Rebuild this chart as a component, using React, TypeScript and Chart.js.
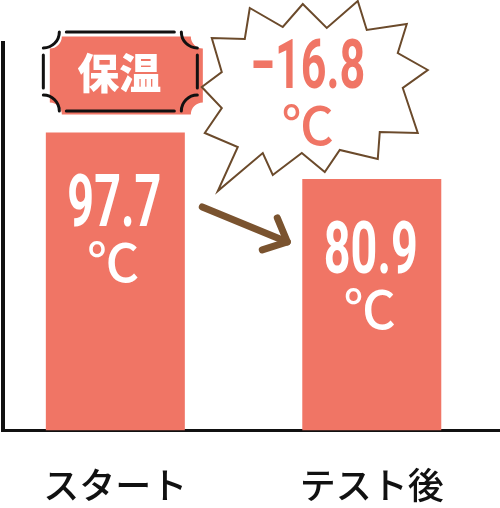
import React, { useEffect, useRef } from "react";
import { Chart, registerables } from "chart.js";

Chart.register(...registerables);

// ---- data ----
const categories = ["スタート", "テスト後"];
const positions = [0, 1];
const temperatures = [97.7, 80.9];
const unitLabel = "℃";
const badgeText = "保温";
const diffLabel = (temperatures[1] - temperatures[0]).toFixed(1).replace("-", "−");

// ---- styles ----
const SALMON = "#f07565";
const BROWN = "#7a532f";
const OUTLINE_BROWN = "#6b4a2b";
const INK = "#111111";
const NUM_FONT = "Roboto, 'DejaVu Sans', sans-serif";
const JP_FONT = "'Noto Sans CJK JP', 'Noto Sans', sans-serif";

// starburst outline, offsets from (second bar centre, chart top)
const BURST: [number, number][] = [
  [-170, 44], [-150, 29], [-160, -5], [-127, -4], [-122, -35], [-89, -16],
  [-69, -39], [-45, -15], [-14, -42], [-5, -13], [35, -19], [26, 10],
  [56, 27], [31, 45], [46, 90], [8, 89], [6, 116], [-32, 107],
  [-47, 129], [-70, 110], [-99, 132], [-109, 110], [-154, 148], [-134, 104],
  [-167, 90], [-150, 65],
];

function drawCondensed(
  ctx: CanvasRenderingContext2D,
  text: string,
  cx: number,
  baseline: number,
  font: string,
  scaleX: number,
  color: string
) {
  ctx.save();
  ctx.font = font;
  ctx.fillStyle = color;
  ctx.textAlign = "center";
  ctx.textBaseline = "alphabetic";
  ctx.translate(cx, baseline);
  ctx.scale(scaleX, 1);
  ctx.fillText(text, 0, 0);
  ctx.restore();
}

function ticketPath(ctx: CanvasRenderingContext2D, x: number, y: number, w: number, h: number, r: number) {
  ctx.beginPath();
  ctx.moveTo(x + r, y);
  ctx.lineTo(x + w - r, y);
  ctx.arc(x + w, y, r, Math.PI, Math.PI / 2, true);
  ctx.lineTo(x + w, y + h - r);
  ctx.arc(x + w, y + h, r, (3 * Math.PI) / 2, Math.PI, true);
  ctx.lineTo(x + r, y + h);
  ctx.arc(x, y + h, r, 0, (3 * Math.PI) / 2, true);
  ctx.lineTo(x, y + r);
  ctx.arc(x, y, r, Math.PI / 2, 0, true);
  ctx.closePath();
}

function ticketOutline(ctx: CanvasRenderingContext2D, x: number, y: number, w: number, h: number, r: number, g: number) {
  const seg = (a: [number, number], b: [number, number]) => {
    ctx.beginPath();
    ctx.moveTo(a[0], a[1]);
    ctx.lineTo(b[0], b[1]);
    ctx.stroke();
  };
  seg([x + r + g, y], [x + w - r - g, y]);
  seg([x + r + g, y + h], [x + w - r - g, y + h]);
  seg([x, y + r + g], [x, y + h - r - g]);
  seg([x + w, y + r + g], [x + w, y + h - r - g]);
  const arcs: [number, number, number, number][] = [
    [x, y, Math.PI / 2, 0],
    [x + w, y, Math.PI, Math.PI / 2],
    [x + w, y + h, (3 * Math.PI) / 2, Math.PI],
    [x, y + h, 2 * Math.PI, (3 * Math.PI) / 2],
  ];
  for (const [cx, cy, a0, a1] of arcs) {
    ctx.beginPath();
    ctx.arc(cx, cy, r, a0, a1, true);
    ctx.stroke();
  }
}

const annotations = {
  id: "annotations",
  afterDraw(chart: any) {
    const ctx: CanvasRenderingContext2D = chart.ctx;
    const top = chart.chartArea.top;
    const meta = chart.getDatasetMeta(0);
    const bars = meta.data.map((el: any) => el.getProps(["x", "y", "width", "base"], true));

    // value labels inside bars
    bars.forEach((b: any, i: number) => {
      drawCondensed(ctx, temperatures[i].toFixed(1), b.x - 1, b.y + 94, `bold 73px ${NUM_FONT}`, 0.64, "#ffffff");
      ctx.save();
      ctx.font = `500 52px ${JP_FONT}`;
      ctx.fillStyle = "#ffffff";
      ctx.textAlign = "center";
      ctx.textBaseline = "alphabetic";
      ctx.fillText(unitLabel, b.x - 2, b.y + 150);
      ctx.restore();
    });

    // badge above first bar
    const b1 = bars[0];
    const ox = b1.x + 5 - 77;
    const oy = top + 28.5 - 39.5;
    ctx.save();
    ctx.fillStyle = SALMON;
    ticketPath(ctx, ox + 6.5, oy + 4.5, 153, 78, 12);
    ctx.fill();
    ctx.strokeStyle = INK;
    ctx.lineWidth = 3;
    ctx.lineCap = "round";
    ticketOutline(ctx, ox, oy, 154, 79, 16, 7);
    ctx.font = `900 42px ${JP_FONT}`;
    ctx.fillStyle = "#ffffff";
    ctx.textAlign = "center";
    ctx.textBaseline = "middle";
    ctx.fillText(badgeText, b1.x + 4, top + 30);
    ctx.restore();

    // starburst with the difference
    const b2 = bars[1];
    ctx.save();
    ctx.beginPath();
    BURST.forEach(([dx, dy], i) => {
      const px = b2.x + dx;
      const py = top + dy;
      if (i === 0) ctx.moveTo(px, py);
      else ctx.lineTo(px, py);
    });
    ctx.closePath();
    ctx.fillStyle = "#ffffff";
    ctx.fill();
    ctx.strokeStyle = OUTLINE_BROWN;
    ctx.lineWidth = 2;
    ctx.lineJoin = "miter";
    ctx.stroke();
    ctx.restore();
    drawCondensed(ctx, diffLabel, b2.x - 64, top + 45, `bold 68px ${NUM_FONT}`, 0.66, SALMON);
    ctx.save();
    ctx.font = `500 52px ${JP_FONT}`;
    ctx.fillStyle = SALMON;
    ctx.textAlign = "center";
    ctx.textBaseline = "alphabetic";
    ctx.fillText(unitLabel, b2.x - 64, top + 102);
    ctx.restore();

    // arrow between bars
    const ax = b2.x - b2.width / 2;
    const ay = b2.y;
    ctx.save();
    ctx.strokeStyle = BROWN;
    ctx.lineWidth = 7;
    ctx.lineCap = "round";
    ctx.lineJoin = "round";
    ctx.beginPath();
    ctx.moveTo(ax - 100, ay + 28);
    ctx.lineTo(ax - 15, ay + 63);
    ctx.stroke();
    ctx.beginPath();
    ctx.moveTo(ax - 25, ay + 39);
    ctx.lineTo(ax - 15, ay + 63);
    ctx.lineTo(ax - 40, ay + 71);
    ctx.stroke();
    ctx.restore();
  },
};

export default function App() {
  const ref = useRef<HTMLCanvasElement | null>(null);
  useEffect(() => {
    document.body.style.margin = "0";
    if (!ref.current) return;
    const chart = new Chart(ref.current, {
      type: "bar",
      data: {
        datasets: [
          {
            data: positions.map((x, i) => ({ x, y: temperatures[i] })),
            backgroundColor: SALMON,
            borderWidth: 0,
            base: -10,
            barPercentage: 0.542,
            categoryPercentage: 1,
          } as any,
        ],
      },
      options: {
        animation: false,
        responsive: false,
        maintainAspectRatio: false,
        layout: { padding: { top: 43, left: 2.5, right: 0, bottom: 1.3 } },
        plugins: { legend: { display: false }, tooltip: { enabled: false } },
        scales: {
          x: {
            type: "linear",
            min: -0.44,
            max: 1.5,
            offset: false,
            bounds: "data",
            grid: { display: false, offset: false, drawTicks: true, tickLength: 33 },
            border: { display: true, color: INK, width: 3 },
            afterBuildTicks: (axis: any) => {
              axis.ticks = positions.map((v) => ({ value: v }));
            },
            ticks: {
              callback: (v: any) => categories[positions.indexOf(Number(v))] ?? "",
              color: INK,
              padding: 0,
              maxRotation: 0,
              autoSkip: false,
              font: { family: JP_FONT, size: 36, weight: 500 as any },
            },
          } as any,
          y: {
            min: -10,
            max: 130,
            grid: { display: false, drawTicks: false },
            border: { display: true, color: INK, width: 4 },
            ticks: { display: false },
          },
        },
      },
      plugins: [annotations],
    });
    return () => chart.destroy();
  }, []);
  return (
    <div style={{ width: 500, height: 508 }}>
      <canvas ref={ref} width={500} height={508} style={{ display: "block", width: 500, height: 508 }} />
    </div>
  );
}
